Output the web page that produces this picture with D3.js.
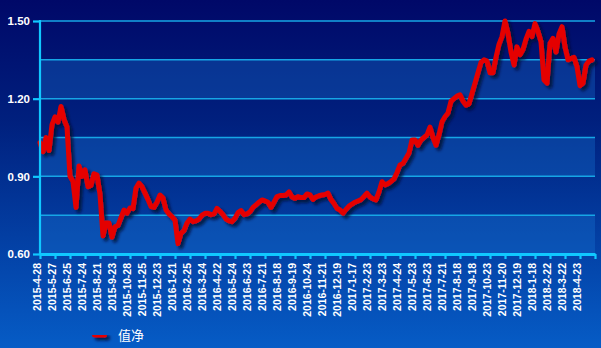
<!DOCTYPE html>
<html>
<head>
<meta charset="utf-8">
<script src="https://cdn.jsdelivr.net/npm/d3@7"></script>
<style>
  html, body { margin: 0; padding: 0; background: #00086b; }
  svg { display: block; }
</style>
</head>
<body>
<svg id="chart" width="601" height="348"></svg>
<script>
// tick labels along the bottom, one every 5 samples
var dateLabels = [
  "2015-4-28", "2015-5-27", "2015-6-25", "2015-7-24", "2015-8-21", "2015-9-23",
  "2015-10-28", "2015-11-25", "2015-12-23", "2016-1-21", "2016-2-25", "2016-3-24",
  "2016-4-22", "2016-5-24", "2016-6-23", "2016-7-21", "2016-8-18", "2016-9-19",
  "2016-10-24", "2016-11-21", "2016-12-19", "2017-1-17", "2017-2-23", "2017-3-23",
  "2017-4-24", "2017-5-23", "2017-6-23", "2017-7-21", "2017-8-18", "2017-9-18",
  "2017-10-23", "2017-11-20", "2017-12-19", "2018-1-18", "2018-2-22", "2018-3-22",
  "2018-4-23"
];

// net value
var netValues = [
  1.03, 0.995, 1.05, 1.00, 1.10, 1.13, 1.11, 1.17, 1.12, 1.09,
  0.90, 0.88, 0.78, 0.94, 0.90, 0.925, 0.86, 0.865, 0.91, 0.905,
  0.83, 0.67, 0.72, 0.72, 0.665, 0.705, 0.71, 0.74, 0.77, 0.758,
  0.778, 0.775, 0.855, 0.874, 0.86, 0.835, 0.81, 0.783, 0.78, 0.80,
  0.828, 0.816, 0.77, 0.755, 0.744, 0.731, 0.64, 0.68, 0.69, 0.72,
  0.735, 0.725, 0.728, 0.735, 0.75, 0.757, 0.757, 0.752, 0.755, 0.776,
  0.765, 0.752, 0.735, 0.728, 0.725, 0.738, 0.76, 0.768, 0.752, 0.755,
  0.763, 0.78, 0.79, 0.80, 0.809, 0.805, 0.80, 0.78, 0.80, 0.822,
  0.826, 0.826, 0.828, 0.84, 0.82, 0.815, 0.822, 0.818, 0.818, 0.832,
  0.828, 0.811, 0.82, 0.825, 0.828, 0.83, 0.835, 0.81, 0.795, 0.776,
  0.77, 0.758, 0.772, 0.785, 0.793, 0.80, 0.805, 0.81, 0.822, 0.835,
  0.82, 0.813, 0.809, 0.84, 0.879, 0.867, 0.872, 0.88, 0.89, 0.915,
  0.944, 0.95, 0.97, 0.99, 1.04, 1.04, 1.02, 1.04, 1.05, 1.06,
  1.09, 1.05, 1.02, 1.06, 1.111, 1.13, 1.145, 1.19, 1.20, 1.21,
  1.215, 1.19, 1.175, 1.18, 1.22, 1.26, 1.30, 1.34, 1.35, 1.345,
  1.30, 1.30, 1.36, 1.41, 1.44, 1.50, 1.452, 1.38, 1.33, 1.40,
  1.37, 1.39, 1.43, 1.46, 1.44, 1.49, 1.46, 1.42, 1.272, 1.26,
  1.414, 1.433, 1.38, 1.45, 1.478, 1.40, 1.35, 1.355, 1.36, 1.323,
  1.25, 1.26, 1.33, 1.345, 1.35
];

var yTicks = [0.60, 0.90, 1.20, 1.50];
var gridValues = [0.75, 0.90, 1.05, 1.20, 1.35, 1.50];
var bandPairs = [[1.20, 1.35], [0.90, 1.05], [0.60, 0.75]];
var seriesName = "值净";

var SAMPLES_PER_TICK = 5;
var W = 601, H = 348;
var LEFT = 40, RIGHT = 595, TOP = 21, BOTTOM = 254;

var svg = d3.select("#chart");
var defs = svg.append("defs");

var bg = defs.append("linearGradient").attr("id", "bg")
  .attr("x1", 0).attr("y1", 0).attr("x2", 0).attr("y2", 1);
bg.append("stop").attr("offset", "0%").attr("stop-color", "#000868");
bg.append("stop").attr("offset", "35%").attr("stop-color", "#00207e");
bg.append("stop").attr("offset", "100%").attr("stop-color", "#065cc6");

// user space units so a flat legend mark still gets its shadow
var shadow = defs.append("filter").attr("id", "shadow")
  .attr("filterUnits", "userSpaceOnUse")
  .attr("x", 0).attr("y", 0).attr("width", W).attr("height", H);
shadow.append("feDropShadow")
  .attr("dx", 3).attr("dy", 3).attr("stdDeviation", 1.6)
  .attr("flood-color", "#000a30").attr("flood-opacity", 0.8);

svg.append("rect").attr("width", W).attr("height", H).attr("fill", "url(#bg)");

var nTicks = dateLabels.length + 1;
var x = d3.scaleLinear()
  .domain([0, (nTicks - 1) * SAMPLES_PER_TICK])
  .range([LEFT, RIGHT]);
var y = d3.scaleLinear().domain([0.60, 1.50]).range([BOTTOM, TOP]);

// lighter bands
svg.append("g").selectAll("rect").data(bandPairs).join("rect")
  .attr("x", LEFT)
  .attr("width", RIGHT - LEFT)
  .attr("y", function(d) { return y(d[1]); })
  .attr("height", function(d) { return y(d[0]) - y(d[1]); })
  .attr("fill", "#1a78d8")
  .attr("fill-opacity", 0.32);

// grid
svg.append("g").selectAll("line").data(gridValues).join("line")
  .attr("x1", LEFT).attr("x2", RIGHT)
  .attr("y1", function(d) { return y(d); })
  .attr("y2", function(d) { return y(d); })
  .attr("stroke", "#16a6e6")
  .attr("stroke-width", 1.5);

// series
var line = d3.line()
  .x(function(d, i) { return x(i); })
  .y(function(d) { return y(d); });

svg.append("path")
  .datum(netValues)
  .attr("d", line)
  .attr("fill", "none")
  .attr("stroke", "#e40000")
  .attr("stroke-width", 5)
  .attr("stroke-linejoin", "round")
  .attr("stroke-linecap", "round")
  .attr("filter", "url(#shadow)");

// axes
var yAxis = d3.axisLeft(y)
  .tickValues(yTicks)
  .tickFormat(d3.format(".2f"))
  .tickSize(7)
  .tickPadding(3);

var gy = svg.append("g").attr("transform", "translate(" + LEFT + ",0)").call(yAxis);
gy.select(".domain").attr("stroke", "#10c8ff").attr("stroke-width", 2.2)
  .attr("d", "M0," + (TOP - 1) + "V" + BOTTOM);
gy.selectAll(".tick line").attr("stroke", "#10c8ff").attr("stroke-width", 2.2);
gy.selectAll(".tick text")
  .attr("fill", "#ffffff")
  .style("font", "bold 11.5px 'Liberation Sans', Arial, sans-serif");

var xAxis = d3.axisBottom(x)
  .tickValues(d3.range(0, nTicks).map(function(i) { return i * SAMPLES_PER_TICK; }))
  .tickFormat(function(d, i) { return dateLabels[i] || ""; })
  .tickSize(5)
  .tickSizeOuter(0);

var gx = svg.append("g").attr("transform", "translate(0," + BOTTOM + ")").call(xAxis);
gx.select(".domain").attr("stroke", "#10c8ff").attr("stroke-width", 3);
gx.selectAll(".tick line").attr("stroke", "#10c8ff").attr("stroke-width", 2.2);
gx.selectAll(".tick text")
  .attr("fill", "#ffffff")
  .attr("text-anchor", "end")
  .attr("transform", "rotate(-90)")
  .attr("x", -9)
  .attr("y", -4)
  .attr("dy", "0.4em")
  .style("font", "bold 10.5px 'Liberation Sans', Arial, sans-serif");

// legend
var legend = svg.append("g").attr("transform", "translate(92,335)");
legend.append("rect")
  .attr("x", 0).attr("y", -2.5)
  .attr("width", 15).attr("height", 5)
  .attr("rx", 2.5)
  .attr("fill", "#e40000")
  .attr("filter", "url(#shadow)");
legend.append("text")
  .attr("x", 26).attr("y", 5)
  .attr("fill", "#ffffff")
  .style("font", "13px 'Noto Sans CJK SC', sans-serif")
  .text(seriesName);
</script>
</body>
</html>
